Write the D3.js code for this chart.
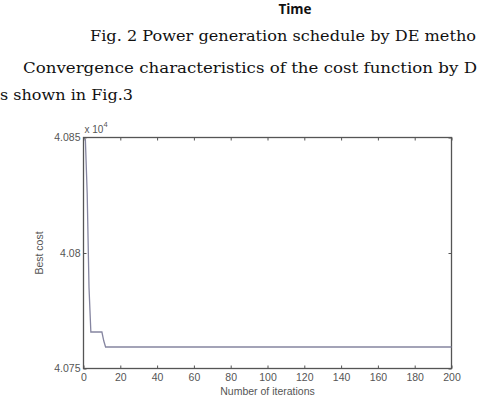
<!DOCTYPE html>
<html>
<head>
<meta charset="utf-8">
<script src="https://cdn.jsdelivr.net/npm/d3@7"></script>
<style>
  body { margin: 0; background: #fff; }
  svg { display: block; }
</style>
</head>
<body>
<div id="chart"></div>
<script>
// recorded points of the convergence curve (iteration, best cost)
var iterations = [1, 2, 3, 4, 10, 11, 12, 200];
var bestCost = [4.08495, 4.0826, 4.0785, 4.07658, 4.07658, 4.0762, 4.07593, 4.07593];
var xTicks = [0, 20, 40, 60, 80, 100, 120, 140, 160, 180, 200];
var yTicks = [4.075, 4.08, 4.085];
var yTickLabels = ["4.075", "4.08", "4.085"];

function drawChart() {
	var W = 479, H = 406;
	var svg = d3.select("#chart").append("svg")
		.attr("width", W)
		.attr("height", H);

	// surrounding page text (cropped as in the page scan)
	svg.append("text")
		.attr("x", 295).attr("y", 14)
		.attr("text-anchor", "middle")
		.style("font-family", "'Open Sans', sans-serif")
		.style("font-weight", "bold")
		.style("font-size", "13.5px")
		.attr("fill", "#111")
		.text("Time");
	var serif = "'DejaVu Serif', serif";
	svg.append("text")
		.attr("x", 90).attr("y", 41)
		.attr("textLength", 386)
		.attr("lengthAdjust", "spacingAndGlyphs")
		.style("font-family", serif)
		.style("font-size", "15px")
		.attr("fill", "#111")
		.text("Fig. 2 Power generation schedule by DE metho");
	svg.append("text")
		.attr("x", 23).attr("y", 73)
		.attr("textLength", 454)
		.attr("lengthAdjust", "spacingAndGlyphs")
		.style("font-family", serif)
		.style("font-size", "15px")
		.attr("fill", "#111")
		.text("Convergence characteristics of the cost function by D");
	svg.append("text")
		.attr("x", 0).attr("y", 100)
		.attr("textLength", 133)
		.attr("lengthAdjust", "spacingAndGlyphs")
		.style("font-family", serif)
		.style("font-size", "15px")
		.attr("fill", "#111")
		.text("s shown in Fig.3");

	// plot box
	var left = 83.5, right = 451.5, top = 137.5, bottom = 368.5;
	var x = d3.scaleLinear().domain([0, 200]).range([left, right]);
	var y = d3.scaleLinear().domain([4.075, 4.085]).range([bottom, top]);

	var axisColor = "#555";
	var tickFont = "'Liberation Sans', Arial, sans-serif";
	var labelColor = "#555";

	var g = svg.append("g");

	// inward ticks on all four sides
	var xAxisB = d3.axisBottom(x).tickValues(xTicks).tickSize(-3).tickPadding(5).tickFormat(d3.format("d"));
	var xAxisT = d3.axisTop(x).tickValues(xTicks).tickSize(-3).tickFormat("");
	var yAxisL = d3.axisLeft(y).tickValues(yTicks).tickSize(-3).tickPadding(3)
		.tickFormat(function(d, i) { return yTickLabels[i]; });
	var yAxisR = d3.axisRight(y).tickValues(yTicks).tickSize(-3).tickFormat("");

	g.append("g").attr("transform", "translate(0," + bottom + ")").call(xAxisB);
	g.append("g").attr("transform", "translate(0," + top + ")").call(xAxisT);
	g.append("g").attr("transform", "translate(" + left + ",0)").call(yAxisL);
	g.append("g").attr("transform", "translate(" + right + ",0)").call(yAxisR);

	g.selectAll(".domain").remove();
	g.selectAll(".tick line").attr("stroke", axisColor).attr("stroke-width", 1);
	g.selectAll(".tick text")
		.attr("fill", labelColor)
		.style("font-family", tickFont)
		.style("font-size", "10.5px");

	g.append("rect")
		.attr("x", left).attr("y", top)
		.attr("width", right - left).attr("height", bottom - top)
		.attr("fill", "none")
		.attr("stroke", axisColor)
		.attr("stroke-width", 1.3);

	// convergence curve
	var line = d3.line()
		.x(function(d) { return x(d[0]); })
		.y(function(d) { return y(d[1]); });
	var pts = iterations.map(function(it, i) { return [it, bestCost[i]]; });
	g.append("path")
		.datum(pts)
		.attr("d", line)
		.attr("fill", "none")
		.attr("stroke", "#8585a0")
		.attr("stroke-width", 1.3);

	// exponent label
	var ex = g.append("text")
		.attr("x", left + 1).attr("y", top - 5)
		.attr("fill", labelColor)
		.style("font-family", tickFont)
		.style("font-size", "10px");
	ex.append("tspan").text("x 10");
	ex.append("tspan").attr("dy", -6).style("font-size", "7.5px").text("4");

	// axis labels
	g.append("text")
		.attr("x", (left + right) / 2).attr("y", 395)
		.attr("text-anchor", "middle")
		.attr("fill", labelColor)
		.style("font-family", tickFont)
		.style("font-size", "10.5px")
		.text("Number of iterations");
	g.append("text")
		.attr("transform", "translate(43," + ((top + bottom) / 2) + ") rotate(-90)")
		.attr("text-anchor", "middle")
		.attr("fill", labelColor)
		.style("font-family", tickFont)
		.style("font-size", "10.5px")
		.text("Best cost");
}

drawChart();
</script>
</body>
</html>
